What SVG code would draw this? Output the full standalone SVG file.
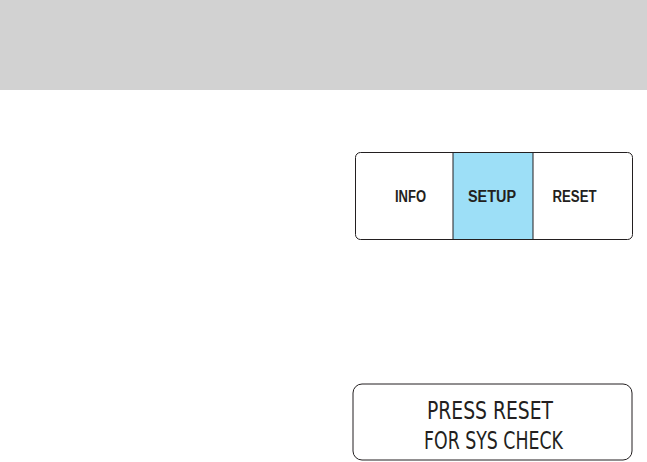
<svg xmlns="http://www.w3.org/2000/svg" width="647" height="462" viewBox="0 0 647 462">
<style>
.btn{font-family:"Liberation Sans",Arial,sans-serif;font-weight:bold;font-size:16px;fill:#231f20;text-anchor:middle}
.lcd{font-family:"DejaVu Sans Condensed","DejaVu Sans",sans-serif;font-size:25px;fill:#231f20;font-weight:normal}
.frame{fill:none;stroke:#231f20;stroke-width:1}
</style>
<rect x="0" y="0" width="647" height="90" fill="#d2d2d2"/>
<g id="buttons">
<rect x="453" y="152.5" width="80" height="87" fill="#9ddff7"/>
<rect class="frame" x="355.5" y="152.5" width="277" height="87" rx="5"/>
<line x1="453" y1="152.5" x2="453" y2="239.5" stroke="#231f20" stroke-width="1"/>
<line x1="533" y1="152.5" x2="533" y2="239.5" stroke="#231f20" stroke-width="1"/>
<text class="btn" x="410.5" y="202" textLength="31" lengthAdjust="spacingAndGlyphs">INFO</text>
<text class="btn" x="492" y="202" textLength="48" lengthAdjust="spacingAndGlyphs">SETUP</text>
<text class="btn" x="574.5" y="202" textLength="44" lengthAdjust="spacingAndGlyphs">RESET</text>
</g>
<g id="display">
<rect class="frame" x="353" y="384" width="279" height="76" rx="9"/>
<text class="lcd" x="427" y="418.5" textLength="126" lengthAdjust="spacingAndGlyphs">PRESS RESET</text>
<text class="lcd" x="424" y="449" textLength="139" lengthAdjust="spacingAndGlyphs">FOR SYS CHECK</text>
</g>
</svg>
